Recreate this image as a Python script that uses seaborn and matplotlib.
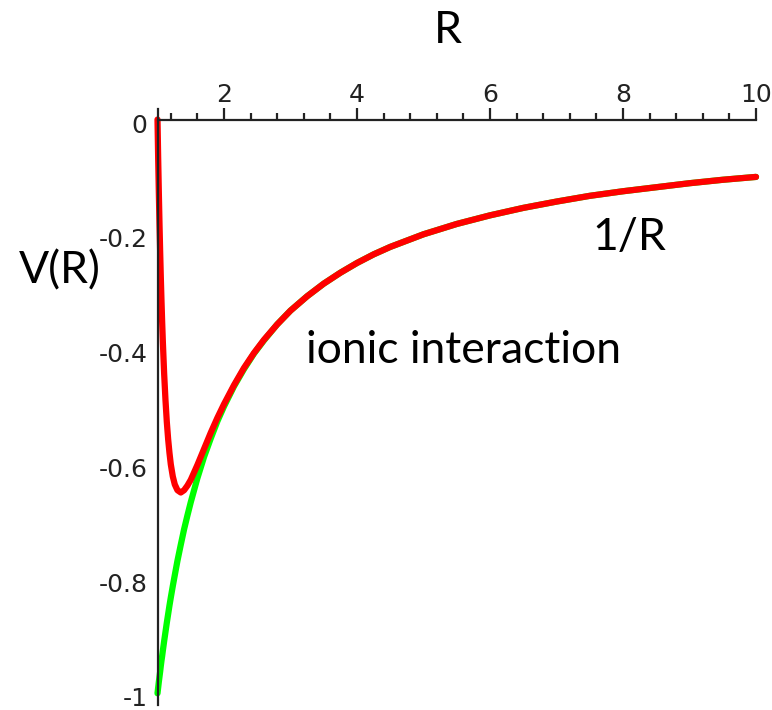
import matplotlib
matplotlib.use("Agg")
import matplotlib.pyplot as plt
import matplotlib.transforms as mtransforms
import seaborn as sns
import pandas as pd

# ---- data ----
r_values = [1.00, 1.01, 1.02, 1.03, 1.04, 1.05, 1.06, 1.07, 1.08, 1.10,
            1.12, 1.14, 1.16, 1.18, 1.20, 1.23, 1.26, 1.30, 1.35, 1.40,
            1.45, 1.50, 1.60, 1.70, 1.80, 1.90, 2.00, 2.15, 2.30, 2.45,
            2.60, 2.80, 3.00, 3.25, 3.50, 3.75, 4.00, 4.25, 4.50, 4.75,
            5.00, 5.50, 6.00, 6.50, 7.00, 7.50, 8.00, 8.50, 9.00, 9.50, 10.0]
v_total = [0.000, -0.067, -0.127, -0.182, -0.231, -0.276, -0.316, -0.353, -0.386, -0.443,
           -0.489, -0.527, -0.557, -0.581, -0.601, -0.622, -0.636, -0.646, -0.650, -0.646,
           -0.638, -0.628, -0.602, -0.574, -0.546, -0.520, -0.496, -0.463, -0.433, -0.407,
           -0.384, -0.357, -0.333, -0.308, -0.286, -0.267, -0.250, -0.235, -0.222, -0.211,
           -0.200, -0.182, -0.167, -0.154, -0.143, -0.133, -0.125, -0.118, -0.111, -0.105, -0.100]
v_ionic = [-1.000, -0.990, -0.980, -0.971, -0.962, -0.952, -0.943, -0.935, -0.926, -0.909,
           -0.893, -0.877, -0.862, -0.847, -0.833, -0.813, -0.794, -0.769, -0.741, -0.714,
           -0.690, -0.667, -0.625, -0.588, -0.556, -0.526, -0.500, -0.465, -0.435, -0.408,
           -0.385, -0.357, -0.333, -0.308, -0.286, -0.267, -0.250, -0.235, -0.222, -0.211,
           -0.200, -0.182, -0.167, -0.154, -0.143, -0.133, -0.125, -0.118, -0.111, -0.105, -0.100]

x_ticks = [2, 4, 6, 8, 10]
x_tick_labels = ["2", "4", "6", "8", "10"]
y_ticks = [0, -0.2, -0.4, -0.6, -0.8, -1.0]
y_tick_labels = ["0", "-0.2", "-0.4", "-0.6", "-0.8", "-1"]
x_minor = [1.2, 1.6, 2.4, 2.8, 3.2, 3.6, 4.4, 4.8, 5.2, 5.6, 6.4, 6.8,
           7.2, 7.6, 8.4, 8.8, 9.2, 9.6]
y_minor = [-0.04, -0.08, -0.12, -0.16, -0.24, -0.28, -0.32, -0.36,
           -0.44, -0.48, -0.52, -0.56, -0.64, -0.68, -0.72, -0.76,
           -0.84, -0.88, -0.92, -0.96]

df = pd.DataFrame({"R": r_values, "total": v_total, "ionic": v_ionic})

sns.set_style("white")
plt.rcParams["font.family"] = ["DejaVu Sans"]

W, H = 772, 710
fig = plt.figure(figsize=(W / 100, H / 100), dpi=100)
ax = fig.add_axes([157.5 / W, 1 - 704.8 / H, (756 - 157.5) / W, (704.8 - 109.2) / H])

sns.lineplot(data=df, x="R", y="ionic", ax=ax, color="#00ff00", linewidth=4.5,
             sort=False, clip_on=False)
sns.lineplot(data=df, x="R", y="total", ax=ax, color="#ff0000", linewidth=4.5,
             sort=False, clip_on=False)

ax.set_xlim(1, 10)
ax.set_ylim(-1.02, 0.018)
ax.set_xlabel("")
ax.set_ylabel("")

axis_color = "#222222"
for side in ["bottom", "right"]:
    ax.spines[side].set_visible(False)
ax.spines["top"].set_position(("data", 0))
ax.spines["top"].set_color(axis_color)
ax.spines["top"].set_linewidth(1.6)
ax.spines["left"].set_color(axis_color)
ax.spines["left"].set_linewidth(1.6)

ax.xaxis.tick_top()
ax.set_xticks(x_ticks)
ax.set_xticklabels(x_tick_labels)
ax.set_xticks(x_minor, minor=True)
ax.set_yticks(y_ticks)
ax.set_yticklabels(y_tick_labels)
ax.set_yticks(y_minor, minor=True)

ax.tick_params(axis="x", which="major", direction="out", length=9, width=1.6,
               color=axis_color, labelsize=18, labelcolor=axis_color, pad=0,
               top=True, bottom=False, labeltop=True, labelbottom=False)
ax.tick_params(axis="x", which="minor", direction="out", length=5, width=1.6,
               color=axis_color, top=True, bottom=False)
ax.tick_params(axis="y", which="major", direction="out", length=10, width=1.6,
               color=axis_color, labelsize=18, labelcolor=axis_color, pad=0)
ax.tick_params(axis="y", which="minor", direction="out", length=5, width=1.6,
               color=axis_color)

offset = mtransforms.ScaledTranslation(0.04, -0.035, fig.dpi_scale_trans)
for lab in ax.get_yticklabels():
    lab.set_transform(lab.get_transform() + offset)

ax.grid(False)
ax.set_facecolor("white")

txt_kw = dict(ha="center", va="baseline", fontsize=32, family=["Lato", "DejaVu Sans"],
              color="black")
fig.text(448 / W, 1 - 43 / H, "R", **txt_kw)
fig.text(59.5 / W, 1 - 283 / H, "V(R)", **txt_kw)
fig.text(629.5 / W, 1 - 250 / H, "1/R", **txt_kw)
fig.text(464 / W, 1 - 363 / H, "ionic interaction", **txt_kw)

fig.savefig("out.png", dpi=100, facecolor="white")
